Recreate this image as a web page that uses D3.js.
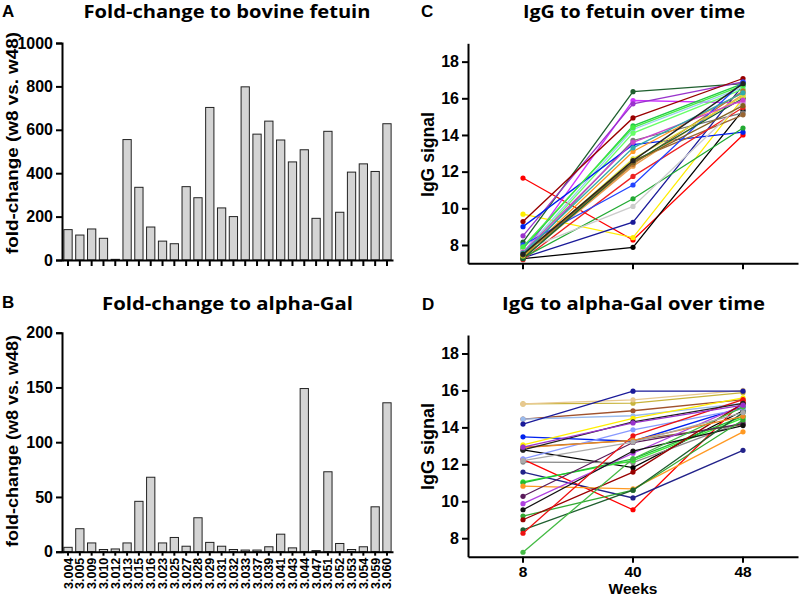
<!DOCTYPE html>
<html><head><meta charset="utf-8">
<script src="https://cdn.jsdelivr.net/npm/d3@7"></script>
<style>
body{margin:0;background:#fff;}
svg{display:block;}
.ax path,.ax line{stroke:#000;stroke-width:2px;}
.ax text{font-family:"Liberation Sans",Arial,sans-serif;font-weight:bold;fill:#000;}
</style></head><body>
<svg id="c" width="800" height="596"></svg>
<script>
const subjects = ["3.004","3.005","3.009","3.010","3.012","3.013","3.015","3.016","3.023","3.025","3.027","3.028","3.029","3.031","3.032","3.033","3.037","3.039","3.041","3.043","3.044","3.047","3.051","3.052","3.053","3.054","3.059","3.060"];
const foldFetuin = [140,115,143,100,3,555,335,152,87,75,338,287,703,240,200,798,580,640,553,452,508,192,593,220,405,443,408,628];
const foldGal = [4,21,8,2,2.5,8,46,68,8,13,5,31,8.5,5,2,1.5,1.5,4.5,16,3.5,149,1,73,7.5,2,4.5,41,136];
const weeks = ["8","40","48"];
const fetuinTicks = [0,200,400,600,800,1000];
const galTicks = [0,50,100,150,200];
const iggTicks = [8,10,12,14,16,18];

// Panel C: IgG to fetuin [w8, w40, w48]
const fetuinLines = [
  [11.65,8.27,14.0],[7.25,7.87,15.35],[9.68,8.4,16.0],[7.3,9.24,16.7],
  [8.15,16.36,16.8],[7.5,15.88,15.75],[8.5,15.7,16.9],[9.28,14.93,17.08],
  [7.8,14.5,16.8],[7.6,14.3,16.6],[7.5,14.1,16.5],[7.4,13.7,15.2],
  [9.0,13.47,14.15],[7.4,13.1,16.3],[7.3,12.6,15.1],[7.3,12.3,16.2],
  [7.35,12.4,16.4],[7.2,11.74,15.5],[8.0,11.27,16.9],[7.3,10.52,14.38],
  [7.7,10.1,15.8],[7.25,12.5,16.0],[7.4,12.7,16.1],[7.6,13.6,15.9],
  [7.9,14.4,16.7],[7.45,12.5,15.6],[7.55,13.3,16.3],[7.5,12.6,16.8]
];
const fetuinColors = ["#ff0000","#000000","#ffee00","#1a1a99","#1f5f2f","#cc33ff","#9933cc","#990000",
  "#22cc44","#99ccee","#66ff66","#777777","#0022ee","#ff9922","#996633","#e8a050",
  "#b8702a","#ee2222","#2244ff","#22aa33","#cccccc","#116633","#dddd33","#cc44cc",
  "#44ee44","#806020","#33aaaa","#222222"];

// Panel D: IgG to alpha-Gal [w8, w40, w48]
const galLines = [
  [15.27,15.31,15.88],[15.27,15.49,16.0],[14.45,14.9,15.5],[14.45,14.63,15.3],
  [14.18,15.96,15.96],[13.49,13.25,15.1],[13.05,14.49,15.6],[12.93,13.3,14.15],
  [12.78,11.82,14.9],[12.12,12.09,14.3],[12.27,9.54,15.4],[12.3,13.87,15.0],
  [11.58,10.18,12.76],[11.05,12.2,14.5],[11.0,12.3,14.6],[10.82,10.67,13.76],
  [10.27,13.18,14.2],[9.87,12.6,15.2],[9.54,12.72,14.1],[9.2,10.6,14.4],
  [9.0,11.58,15.3],[8.45,10.6,14.8],[8.27,13.54,15.5],[7.24,12.3,15.1],
  [12.9,13.3,14.6],[12.78,14.3,15.3],[12.93,14.24,15.2],[12.2,13.2,14.8]
];
const galColors = ["#c8b43c","#e8c890","#a0522d","#99bbee","#1a1a99","#0022ee","#ffee00","#8b6b3d",
  "#000000","#888888","#ff0000","#8899ff","#22228a","#33ee33","#22bb33","#ff9922",
  "#5a1a5a","#b040e0","#111111","#33aa33","#990000","#1f5f2f","#ee1111","#44bb44",
  "#ee8822","#222222","#9933cc","#aaaaaa"];

const svg = d3.select("#c");
const fontT = "'Open Sans', Lato, sans-serif";
const fontA = "'Liberation Sans', Arial, sans-serif";

function label(x,y,t,size,opts={}){
  const el = svg.append("text").attr("x",x).attr("y",y).text(t)
    .attr("font-family",opts.family||fontA).attr("font-weight","bold")
    .attr("font-size",size).attr("text-anchor",opts.anchor||"middle");
  if(opts.len) el.attr("textLength",opts.len).attr("lengthAdjust","spacingAndGlyphs");
  if(opts.rot) el.attr("transform",`rotate(${opts.rot},${x},${y})`);
  return el;
}

// ---------- Bar panels ----------
function barPanel(values, ticks, yTop, yBot, showLabels){
  const x = d3.scaleBand().domain(subjects).range([62,393]).paddingInner(0.3).paddingOuter(0.16);
  const y = d3.scaleLinear().domain([ticks[0],ticks[ticks.length-1]]).range([yBot,yTop]);
  const g = svg.append("g");
  g.selectAll("rect").data(values).join("rect")
    .attr("x",(d,i)=>x(subjects[i])).attr("width",x.bandwidth())
    .attr("y",d=>y(d)).attr("height",d=>yBot-y(d))
    .attr("fill","#d4d4d4").attr("stroke","#222").attr("stroke-width",1);
  const ya = svg.append("g").attr("class","ax").attr("transform","translate(62,0)")
    .call(d3.axisLeft(y).tickValues(ticks).tickSize(6).tickPadding(3).tickFormat(d3.format("d")));
  ya.selectAll("text").attr("font-size",16);
  const xa = svg.append("g").attr("class","ax").attr("transform",`translate(0,${yBot})`)
    .call(d3.axisBottom(x).tickSize(showLabels?4:6).tickSizeOuter(0));
  if(showLabels){
    xa.selectAll("text").attr("font-size",12.5)
      .attr("transform","rotate(-90)").attr("text-anchor","end")
      .attr("x",-6).attr("y",0).attr("dy","0.36em");
  } else {
    xa.selectAll("text").remove();
  }
}
barPanel(foldFetuin, fetuinTicks, 43, 260, false);
barPanel(foldGal, galTicks, 332.7, 551.7, true);

// ---------- Line panels ----------
function linePanel(lines, colors, yTop, yBot, showLabels){
  const x = d3.scaleBand().domain(weeks).range([468,798]);
  const y = d3.scaleLinear().domain([7,19]).range([yBot,yTop]);
  const cx = w => x(w)+x.bandwidth()/2;
  const line = d3.line().x((d,i)=>cx(weeks[i])).y(d=>y(d));
  const g = svg.append("g");
  lines.forEach((ln,k)=>{
    g.append("path").datum(ln).attr("d",line).attr("fill","none")
      .attr("stroke",colors[k]).attr("stroke-width",1.3);
    g.selectAll(null).data(ln).join("circle")
      .attr("cx",(d,i)=>cx(weeks[i])).attr("cy",d=>y(d)).attr("r",2.6)
      .attr("fill",colors[k]);
  });
  const ya = svg.append("g").attr("class","ax").attr("transform","translate(468,0)")
    .call(d3.axisLeft(y).tickValues(iggTicks).tickSize(6).tickPadding(3).tickSizeOuter(0));
  ya.selectAll("text").attr("font-size",16);
  const xa = svg.append("g").attr("class","ax").attr("transform",`translate(0,${yBot})`)
    .call(d3.axisBottom(x).tickSize(6).tickSizeOuter(0).tickPadding(3));
  if(showLabels) xa.selectAll("text").attr("font-size",15.5);
  else xa.selectAll("text").remove();
}
linePanel(fetuinLines, fetuinColors, 43.3, 263.3, false);
linePanel(galLines, galColors, 335, 556.7, true);

// ---------- Titles & labels ----------
label(2,17,"A",17,{anchor:"start"});
label(2,308,"B",17,{anchor:"start"});
label(421,17,"C",17,{anchor:"start"});
label(422,310,"D",17,{anchor:"start"});
label(227,18,"Fold-change to bovine fetuin",18,{family:fontT,len:287});
label(227.5,310,"Fold-change to alpha-Gal",18.5,{family:fontT,len:251});
label(634,18,"IgG to fetuin over time",18,{family:fontT,len:222});
label(633.5,310,"IgG to alpha-Gal over time",18.5,{family:fontT,len:263});
label(18,143,"fold-change (w8 vs. w48)",16.5,{rot:-90,len:222});
label(18,441,"fold-change (w8 vs. w48)",16,{rot:-90,len:212});
label(434,154.5,"IgG signal",17.5,{rot:-90,len:85});
label(434,446.5,"IgG signal",17.5,{rot:-90,len:87});
label(633,594,"Weeks",15.5);
</script>
</body></html>
